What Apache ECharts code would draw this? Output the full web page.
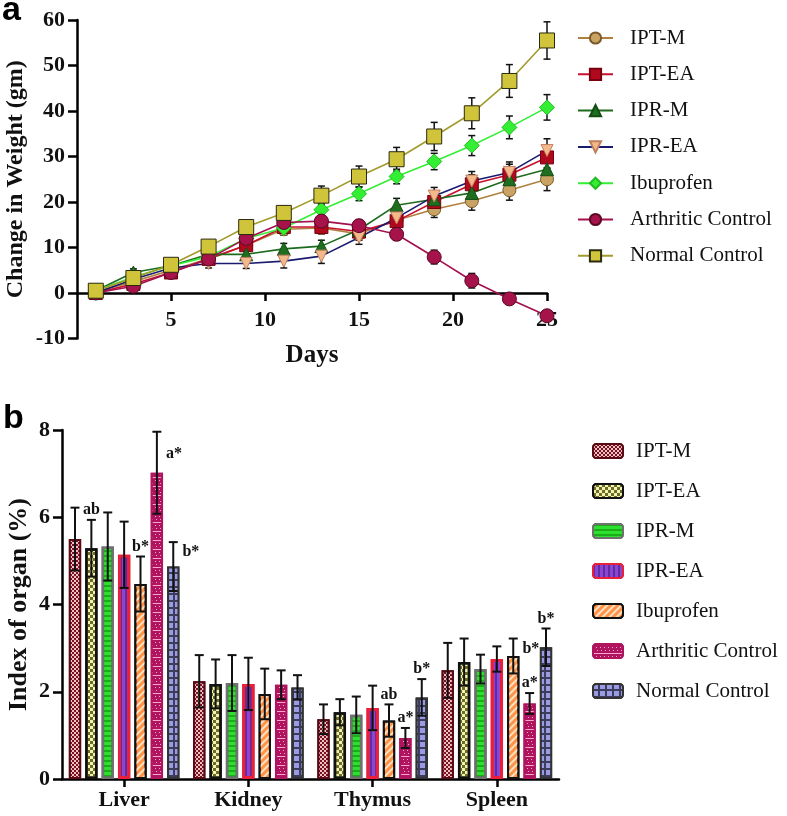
<!DOCTYPE html>
<html><head><meta charset="utf-8">
<script src="https://cdn.jsdelivr.net/npm/echarts@6/dist/echarts.min.js"></script>
<style>html,body{margin:0;padding:0;background:#fff}#c{width:787px;height:816px}</style>
</head><body><div id="c"></div>
<script>
// ---------- Panel a data ----------
const days = [1,3,5,7,9,11,13,15,17,19,21,23,25];
const groupNames = ['IPT-M','IPT-EA','IPR-M','IPR-EA','Ibuprofen','Arthritic Control','Normal Control'];
const iptM      = [0.3,2.5,5,7.5,10.5,14,14.3,13,16,18.4,20.2,22.6,25];
const iptMErr   = [0.4,0.8,0.8,1,1.2,1.3,1.3,1.4,1.6,1.8,2,2.2,2.5];
const iptEA     = [0,2,4.5,7.5,10.5,14.5,14.5,13.5,15.8,20,23.9,26,29.8];
const iptEAErr  = [0.4,0.8,0.8,1,1.2,1.3,1.4,1.5,1.7,1.9,2.1,2.3,2.6];
const iprM      = [0.5,4.5,6,8.5,8.5,9.7,10.3,13.9,19.3,20.6,22,25,27.2];
const iprMErr   = [0.4,0.8,0.8,1,1,1.2,1.3,1.4,1.5,1.7,1.9,2,2.2];
const iprEA     = [0,3,5.5,6.5,6.5,7,8.1,12.2,16.5,21.3,24.6,26.5,31.3];
const iprEAErr  = [0.4,0.8,0.8,1,1.1,1.5,1.6,1.5,1.7,1.9,2.1,2.3,2.6];
const ibu       = [0.5,3.5,6,8,12,14.3,18.3,21.8,25.6,28.9,32.4,36.4,40.8];
const ibuErr    = [0.4,0.8,0.8,1,1.1,1.2,1.3,1.5,1.6,1.8,2.2,2.5,2.8];
const arth      = [0,1.5,4.5,7.5,12,15.5,15.8,14.8,12.9,7.9,2.7,-1.3,-5];
const arthErr   = [0.4,0.8,0.8,1,1.1,1.2,1.2,1.3,1.3,1.5,1.6,1,1];
const normal    = [0.5,3.3,6.2,10.2,14.5,17.6,21.4,25.6,29.4,34.4,39.5,46.6,55.5];
const normalErr = [0.4,0.8,0.8,1,1.2,1.5,2.1,2.3,2.6,3.1,3.4,3.6,4.1];

// ---------- Panel b data ----------
const organs = ['Liver','Kidney','Thymus','Spleen'];
const bIptM    = [5.5,2.24,1.37,2.49];  const bIptMErr  = [0.72,0.6,0.34,0.63];
const bIptEA   = [5.29,2.18,1.53,2.68]; const bIptEAErr = [0.65,0.56,0.3,0.54];
const bIprM    = [5.33,2.2,1.47,2.52];  const bIprMErr  = [0.78,0.64,0.42,0.33];
const bIprEA   = [5.14,2.18,1.63,2.75]; const bIprEAErr = [0.76,0.6,0.51,0.29];
const bIbu     = [4.47,1.95,1.34,2.82]; const bIbuErr   = [0.63,0.58,0.37,0.4];
const bArth    = [7.02,2.16,0.94,1.73]; const bArthErr  = [0.94,0.33,0.23,0.24];
const bNorm    = [4.87,2.1,1.87,3.02];  const bNormErr  = [0.56,0.28,0.42,0.43];

// significance annotations
const annotGroup = ['IPT-EA','Ibuprofen','Arthritic Control','Normal Control','Ibuprofen','Arthritic Control','Normal Control','Ibuprofen','Arthritic Control','Normal Control'];
const annotOrgan = ['Liver','Liver','Liver','Liver','Thymus','Thymus','Thymus','Spleen','Spleen','Spleen'];
const annotText  = ['ab','b*','a*','b*','ab','a*','b*','b*','a*','b*'];
const annotPlace = ['top','top','right-low','right','top','top','top','right','top','top'];

// ---------- build ----------
const lineVals = [iptM,iptEA,iprM,iprEA,ibu,arth,normal];
const lineErrs = [iptMErr,iptEAErr,iprMErr,iprEAErr,ibuErr,arthErr,normalErr];
const barVals = [bIptM,bIptEA,bIprM,bIprEA,bIbu,bArth,bNorm];
const barErrs = [bIptMErr,bIptEAErr,bIprMErr,bIprEAErr,bIbuErr,bArthErr,bNormErr];

const SERIF = '"Liberation Serif","Times New Roman",serif';
const lineStyles = [
  {symbol:'circle', size:13, line:'#b0803e', fill:'#c9a363', border:'#7a5a2a', rotate:0},
  {symbol:'rect', size:13, line:'#c8102e', fill:'#b0081c', border:'#7a0010', rotate:0},
  {symbol:'triangle', size:13, line:'#1d6b1d', fill:'#1f6e1f', border:'#134d13', rotate:0},
  {symbol:'triangle', size:12, line:'#1a1a70', fill:'#f3b98a', border:'#c08060', rotate:180},
  {symbol:'diamond', size:15, line:'#33ee33', fill:'#33ee33', border:'#22bb22', rotate:0},
  {symbol:'circle', size:14, line:'#a3104e', fill:'#a5134a', border:'#5a0825', rotate:0},
  {symbol:'rect', size:15, line:'#a39a2c', fill:'#d0c43a', border:'#2a2a10', rotate:0}
];
const barStyles = [
  {color:'#7a1222', border:'#5a0a14', bw:2, decal:{symbol:'rect', color:'rgba(255,225,225,0.85)', dashArrayX:[[2,2],[0,2,2,0]], dashArrayY:[2,0]}},
  {color:'#f2f2b8', border:'#111111', bw:2.5, decal:{symbol:'rect', color:'#6e6e22', dashArrayX:[[3,3],[0,3,3,0]], dashArrayY:[3,0]}},
  {color:'#2ee02e', border:'#707070', bw:2.5, decal:{symbol:'rect', color:'rgba(0,110,0,0.45)', dashArrayX:[1,0], dashArrayY:[1.5,2.5]}},
  {color:'#8a46d0', border:'#e8203c', bw:3, decal:{symbol:'rect', color:'rgba(60,20,130,0.55)', dashArrayX:[1.5,2.5], dashArrayY:[1,0]}},
  {color:'#ff9448', border:'#111111', bw:2, decal:{symbol:'rect', color:'rgba(255,232,205,0.9)', rotation:-Math.PI/4, dashArrayX:[1,0], dashArrayY:[1.5,3]}},
  {color:'#b0145e', border:'#b0145e', bw:2, decal:{symbol:'rect', color:'#f4a8cc', dashArrayX:[[1,3],[4,0],[0,3,1,0]], dashArrayY:[1,1.5]}},
  {color:'#3c3c5c', border:'#333333', bw:2, decal:{symbol:'rect', color:'#9b9be3', dashArrayX:[5,1.5], dashArrayY:[5,1.5]}}
];

const CAT_GAP = 0.11, BAR_GAP = 0.33, NB = groupNames.length;
function barPos(api, cat, s) {
  const bw = api.size([1, 0])[0];
  const remained = bw * (1 - CAT_GAP);
  const w = remained / (NB + (NB - 1) * BAR_GAP);
  const total = NB * w + (NB - 1) * w * BAR_GAP;
  const cx = api.coord([cat, 0])[0];
  return {x: cx - total / 2 + s * w * (1 + BAR_GAP) + w / 2, w: w};
}

const series = [];
// panel a error bars
groupNames.forEach((g, si) => {
  series.push({
    type:'custom', name:'errA'+si, xAxisIndex:0, yAxisIndex:0, z:1, silent:true,
    data: days.map((d, i) => [d, lineVals[si][i], lineErrs[si][i]]),
    renderItem: (params, api) => {
      const x = api.value(0), y = api.value(1), e = api.value(2);
      const p = api.coord([x, y + e]), q = api.coord([x, y - e]);
      const st = {stroke:'#111', lineWidth:1.5};
      return {type:'group', children:[
        {type:'line', shape:{x1:p[0], y1:p[1], x2:q[0], y2:q[1]}, style:st},
        {type:'line', shape:{x1:p[0]-3.5, y1:p[1], x2:p[0]+3.5, y2:p[1]}, style:st},
        {type:'line', shape:{x1:q[0]-3.5, y1:q[1], x2:q[0]+3.5, y2:q[1]}, style:st}
      ]};
    }
  });
});
// panel a lines
groupNames.forEach((g, si) => {
  const s = lineStyles[si];
  series.push({
    type:'line', name:g, xAxisIndex:0, yAxisIndex:0, z:2,
    data: days.map((d, i) => [d, lineVals[si][i]]),
    symbol:s.symbol, symbolSize:s.size, symbolRotate:s.rotate,
    lineStyle:{color:s.line, width:1.6},
    itemStyle:{color:s.fill, borderColor:s.border, borderWidth:1},
    emphasis:{disabled:true}
  });
});
// panel b bars
groupNames.forEach((g, si) => {
  const s = barStyles[si];
  series.push({
    type:'bar', name:'b:'+g, xAxisIndex:1, yAxisIndex:1, z:2,
    data: barVals[si],
    barCategoryGap: (CAT_GAP*100)+'%', barGap: (BAR_GAP*100)+'%',
    itemStyle:{color:s.color, borderColor:s.border, borderWidth:s.bw, decal:s.decal},
    emphasis:{disabled:true}
  });
});
// panel b error bars
const errBData = [];
groupNames.forEach((g, si) => organs.forEach((o, ci) => errBData.push([ci, barVals[si][ci], barErrs[si][ci], si])));
series.push({
  type:'custom', name:'errB', xAxisIndex:1, yAxisIndex:1, z:5, silent:true,
  data: errBData,
  renderItem: (params, api) => {
    const ci = api.value(0), y = api.value(1), e = api.value(2), si = api.value(3);
    const bp = barPos(api, ci, si);
    const p = api.coord([ci, y + e]), q = api.coord([ci, y - e]);
    const st = {stroke:'#111', lineWidth:2};
    return {type:'group', children:[
      {type:'line', shape:{x1:bp.x, y1:p[1], x2:bp.x, y2:q[1]}, style:st},
      {type:'line', shape:{x1:bp.x-4.5, y1:p[1], x2:bp.x+4.5, y2:p[1]}, style:st},
      {type:'line', shape:{x1:bp.x-4.5, y1:q[1], x2:bp.x+4.5, y2:q[1]}, style:st}
    ]};
  }
});
// panel b annotations
const annotData = annotText.map((t, k) => {
  const si = groupNames.indexOf(annotGroup[k]);
  const ci = organs.indexOf(annotOrgan[k]);
  return [ci, barVals[si][ci] + barErrs[si][ci], si];
});
series.push({
  type:'custom', name:'annot', xAxisIndex:1, yAxisIndex:1, z:6, silent:true,
  data: annotData,
  renderItem: (params, api) => {
    const ci = api.value(0), top = api.value(1), si = api.value(2);
    const k = params.dataIndex;
    const bp = barPos(api, ci, si);
    const p = api.coord([ci, top]);
    const place = annotPlace[k];
    const right = place !== 'top';
    const dy = place === 'right-low' ? 14 : (right ? 2 : -2);
    return {type:'text', x: right ? bp.x + bp.w/2 + 3 : bp.x, y: p[1] + dy,
      style:{text: annotText[k], fill:'#111', font:'bold 16px ' + SERIF,
        align: right ? 'left' : 'center', verticalAlign: right ? 'top' : 'bottom'}};
  }
});

const axisLineStyle = {color:'#000', width:2.5};
const tickLabel = {color:'#111', fontFamily:SERIF, fontWeight:'bold', fontSize:22};
const nameStyle = {color:'#111', fontFamily:SERIF, fontWeight:'bold', fontSize:26};
const TOP_H = 318.5, Y_MIN = -10, Y_MAX = 60;

const option = {
  animation:false,
  backgroundColor:'#fff',
  grid:[
    {left:77, top:20, width:470, height:TOP_H, outerBoundsMode:'none', containLabel:false},
    {left:62, top:430, width:497, height:349, outerBoundsMode:'none', containLabel:false}
  ],
  xAxis:[
    {type:'value', gridIndex:0, min:0, max:25, interval:5,
     offset: -TOP_H * (0 - Y_MIN) / (Y_MAX - Y_MIN),
     axisLine:{show:true, onZero:false, lineStyle:axisLineStyle},
     axisTick:{show:true, length:8, lineStyle:{color:'#000', width:2.5}},
     axisLabel:{...tickLabel, margin:16, showMinLabel:false},
     splitLine:{show:false},
     name:'Days', nameLocation:'middle', nameGap:50, nameTextStyle:{...nameStyle, fontSize:25}},
    {type:'category', gridIndex:1, data:organs,
     axisLine:{show:true, lineStyle:axisLineStyle},
     axisTick:{show:true, alignWithLabel:true, length:8, lineStyle:{color:'#000', width:2.5}},
     axisLabel:{...tickLabel, margin:10}}
  ],
  yAxis:[
    {type:'value', gridIndex:0, min:Y_MIN, max:Y_MAX, interval:10,
     axisLine:{show:true, lineStyle:axisLineStyle},
     axisTick:{show:true, length:9, lineStyle:{color:'#000', width:2.5}},
     axisLabel:{...tickLabel, margin:12},
     splitLine:{show:false},
     name:'Change in Weight (gm)', nameLocation:'middle', nameGap:49, nameMoveOverlap:false,
     nameTextStyle:{...nameStyle, fontSize:24}},
    {type:'value', gridIndex:1, min:0, max:8, interval:2,
     axisLine:{show:true, lineStyle:axisLineStyle},
     axisTick:{show:true, length:9, lineStyle:{color:'#000', width:2.5}},
     axisLabel:{...tickLabel, margin:12},
     splitLine:{show:false},
     name:'Index of organ (%)', nameLocation:'middle', nameGap:30, nameMoveOverlap:false,
     nameTextStyle:nameStyle}
  ],
  legend:[
    {data:groupNames, orient:'vertical', left:572, top:22, itemWidth:35, itemHeight:14, itemGap:14.3,
     selectedMode:false,
     textStyle:{fontFamily:SERIF, fontSize:21, color:'#111', lineHeight:22, padding:[0,0,0,12]}},
    {data:groupNames.map(g => 'b:'+g), orient:'vertical', left:587, top:435, itemWidth:30, itemHeight:14, itemGap:18,
     selectedMode:false, formatter: n => n.replace('b:', ''),
     textStyle:{fontFamily:SERIF, fontSize:21, color:'#111', lineHeight:22, padding:[0,0,0,8]}}
  ],
  graphic:[
    {type:'text', left:2, top:-6, style:{text:'a', font:'bold 34px "Liberation Sans",Arial,sans-serif', fill:'#000'}},
    {type:'text', left:3, top:402, style:{text:'b', font:'bold 34px "Liberation Sans",Arial,sans-serif', fill:'#000'}}
  ],
  series: series
};
const chart = echarts.init(document.getElementById('c'), null, {renderer:'canvas'});
chart.setOption(option);
</script></body></html>
